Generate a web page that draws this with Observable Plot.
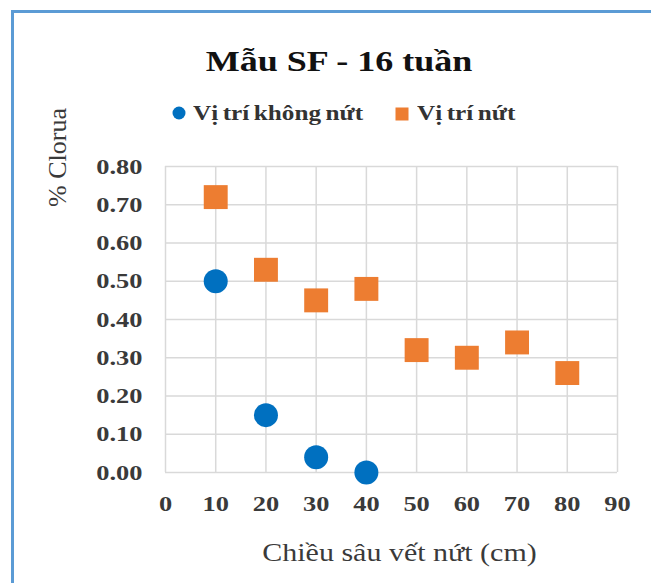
<!DOCTYPE html>
<html>
<head>
<meta charset="utf-8">
<script src="https://cdn.jsdelivr.net/npm/d3@7"></script>
<script src="https://cdn.jsdelivr.net/npm/@observablehq/plot@0.6"></script>
<style>
  body { margin: 0; background: #fff; }
  #chart { position: relative; width: 651px; height: 583px; overflow: hidden;
           font-family: "Liberation Serif", "Times New Roman", serif; }
  .frame { position: absolute; left: 11px; top: 10px; right: -4px; bottom: -4px;
           border-left: 3px solid #5b9bd5; border-top: 3px solid #5b9bd5; }
  .title { position: absolute; left: 339px; top: 46px; font-size: 30px; line-height: 30px;
           font-weight: bold; color: #111; white-space: nowrap;
           transform: translateX(-50%) scaleX(1.2); }
  .leg-text { position: absolute; top: 103px; font-size: 21px; line-height: 21px; font-weight: bold;
              color: #333; white-space: nowrap; word-spacing: -1.5px;
              transform-origin: left center; transform: scaleX(1.2); }
  .swatch { position: absolute; }
  #plot { position: absolute; left: 0; top: 140px; }
  #plot svg { overflow: visible; }
</style>
</head>
<body>
<div id="chart">
  <div class="frame"></div>
  <div class="title">Mẫu SF - 16 tuần</div>
  <div id="legend"></div>
  <div id="plot"></div>
</div>
<script>
// Chloride content (%) against crack depth (cm), sample SF after 16 weeks
const depthUncracked = [10, 20, 30, 40];
const chlorideUncracked = [0.50, 0.15, 0.04, 0.00];
const depthCracked = [10, 20, 30, 40, 50, 60, 70, 80];
const chlorideCracked = [0.72, 0.53, 0.45, 0.48, 0.32, 0.30, 0.34, 0.26];

const seriesNames = ["Vị trí không nứt", "Vị trí nứt"];
const seriesColors = ["#0070c0", "#ed7d31"];
const xTicks = [0, 10, 20, 30, 40, 50, 60, 70, 80, 90];
const yTicks = [0, 0.1, 0.2, 0.3, 0.4, 0.5, 0.6, 0.7, 0.8];
const xTitle = "Chiều sâu vết nứt (cm)";
const yTitle = "% Clorua";

const uncracked = depthUncracked.map((d, i) => ({depth: d, chloride: chlorideUncracked[i]}));
const cracked = depthCracked.map((d, i) => ({depth: d, chloride: chlorideCracked[i]}));

// Legend
const legend = document.getElementById("legend");
legend.innerHTML = `
  <svg class="swatch" style="left:171px;top:105px" width="16" height="16">
    <circle cx="8" cy="8" r="6.5" fill="${seriesColors[0]}"/></svg>
  <div class="leg-text" style="left:193px">${seriesNames[0]}</div>
  <svg class="swatch" style="left:394px;top:106px" width="16" height="16">
    <rect x="1.5" y="1.5" width="13" height="13" fill="${seriesColors[1]}"/></svg>
  <div class="leg-text" style="left:417px">${seriesNames[1]}</div>`;

const chart = Plot.plot({
  width: 651,
  height: 443,
  marginTop: 26,
  marginBottom: 111,
  marginLeft: 165,
  marginRight: 34,
  style: {fontFamily: '"Liberation Serif", "Times New Roman", serif', color: "#3a3a3a",
          background: "transparent", overflow: "visible"},
  x: {domain: [0, 90]},
  y: {domain: [0, 0.8]},
  marks: [
    Plot.gridX(xTicks, {stroke: "#d9d9d9", strokeOpacity: 1, strokeWidth: 1.5}),
    Plot.gridY(yTicks, {stroke: "#d9d9d9", strokeOpacity: 1, strokeWidth: 1.5}),
    Plot.axisX(xTicks, {tickSize: 0, tickPadding: 23, fontSize: 22, fontWeight: "bold", label: null}),
    Plot.axisY(yTicks, {tickSize: 0, tickPadding: 23, fontSize: 22, fontWeight: "bold", label: null,
                        tickFormat: d3.format(".2f")}),
    Plot.dot(uncracked, {x: "depth", y: "chloride", r: 12, fill: seriesColors[0], stroke: "none"}),
    Plot.dot(cracked, {x: "depth", y: "chloride", r: 13.5, symbol: "square", fill: seriesColors[1], stroke: "none"}),
    Plot.text([xTitle], {text: d => d, frameAnchor: "bottom", lineAnchor: "middle", textAnchor: "middle",
                         dx: 8, dy: 80, fontSize: 25}),
    Plot.text([yTitle], {text: d => d, frameAnchor: "top-left", lineAnchor: "middle", textAnchor: "middle",
                         dx: -108, dy: -9, rotate: -90, fontSize: 26})
  ]
});

// Widen the lettering horizontally about each label's anchor point
chart.querySelectorAll("text").forEach(t => {
  const tr = t.getAttribute("transform");
  if (tr && /rotate/.test(tr)) return;
  if (tr) {
    t.setAttribute("transform", tr + " scale(1.2,1)");
  } else {
    const x = +(t.getAttribute("x") || 0), y = +(t.getAttribute("y") || 0);
    t.removeAttribute("x"); t.removeAttribute("y");
    t.setAttribute("transform", `translate(${x},${y}) scale(1.2,1)`);
  }
});

document.getElementById("plot").appendChild(chart);
</script>
</body>
</html>
